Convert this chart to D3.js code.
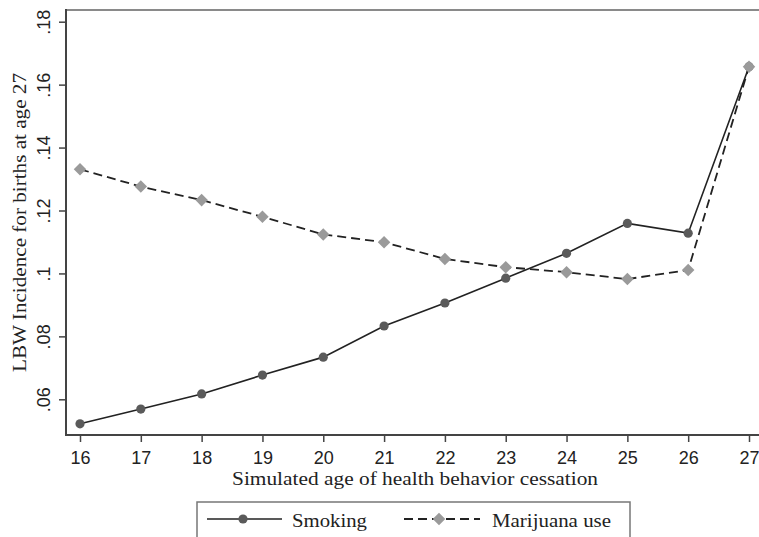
<!DOCTYPE html>
<html>
<head>
<meta charset="utf-8">
<script src="https://cdn.jsdelivr.net/npm/d3@7/dist/d3.min.js"></script>
<style>
  html, body { margin: 0; padding: 0; background: #fff; }
  svg { display: block; font-family: "Liberation Serif", "DejaVu Serif", serif; }
</style>
</head>
<body>
<svg id="chart" width="759" height="537"></svg>
<script>
const ages = [16, 17, 18, 19, 20, 21, 22, 23, 24, 25, 26, 27];
const smoking = [0.0522, 0.0569, 0.0617, 0.0677, 0.0734, 0.0833, 0.0906, 0.0985, 0.1064, 0.1159, 0.1128, 0.1657];
const marijuana = [0.1331, 0.1276, 0.1233, 0.1180, 0.1124, 0.1099, 0.1046, 0.1020, 0.1004, 0.0982, 0.1011, 0.1657];
const yTicks = [0.06, 0.08, 0.10, 0.12, 0.14, 0.16, 0.18];
const yTickLabels = [".06", ".08", ".1", ".12", ".14", ".16", ".18"];
const xTicks = ages;
const seriesNames = ["Smoking", "Marijuana use"];
const xTitle = "Simulated age of health behavior cessation";
const yTitle = "LBW Incidence for births at age 27";

const svg = d3.select("#chart");
const plot = { left: 66, top: 10, right: 759, bottom: 435 };

const x = d3.scaleLinear().domain([16, 27]).range([80, 749]);
const y = d3.scaleLinear().domain([0.06, 0.18]).range([399.3, 21.7]);

const textColor = "#222";

// top border
svg.append("line")
  .attr("x1", plot.left).attr("x2", plot.right)
  .attr("y1", plot.top).attr("y2", plot.top)
  .attr("stroke", "#8a8a8a").attr("stroke-width", 2);

// Y axis
const yAxis = d3.axisLeft(y).tickValues(yTicks)
  .tickFormat((d, i) => yTickLabels[i]).tickSize(7).tickPadding(4);
const gy = svg.append("g").attr("transform", `translate(${plot.left},0)`).call(yAxis);
gy.select(".domain").remove();
gy.selectAll(".tick line").attr("stroke", "#444").attr("stroke-width", 1.5);
gy.selectAll(".tick text")
  .attr("fill", textColor)
  .style("font-size", "18px")
  .attr("transform", "rotate(-90)")
  .attr("x", 0).attr("y", -16)
  .attr("dy", 0)
  .attr("text-anchor", "middle");

svg.append("line")
  .attr("x1", plot.left).attr("x2", plot.left)
  .attr("y1", plot.top - 1).attr("y2", plot.bottom + 1)
  .attr("stroke", "#444").attr("stroke-width", 2);

// X axis
const xAxis = d3.axisBottom(x).tickValues(xTicks).tickFormat(d3.format("d")).tickSize(7).tickPadding(3);
const gx = svg.append("g").attr("transform", `translate(0,${plot.bottom})`).call(xAxis);
gx.select(".domain").remove();
gx.selectAll(".tick line").attr("stroke", "#444").attr("stroke-width", 1.5);
gx.selectAll(".tick text").attr("fill", textColor).style("font-size", "18px")
  .attr("y", 17).attr("dy", "0.68em");

svg.append("line")
  .attr("x1", plot.left - 1).attr("x2", plot.right)
  .attr("y1", plot.bottom).attr("y2", plot.bottom)
  .attr("stroke", "#444").attr("stroke-width", 2);

// titles
svg.append("text")
  .attr("x", 415).attr("y", 485)
  .attr("text-anchor", "middle")
  .attr("fill", textColor)
  .style("font-size", "18px")
  .attr("textLength", 366).attr("lengthAdjust", "spacingAndGlyphs")
  .text(xTitle);

svg.append("text")
  .attr("transform", `translate(26,${222.5}) rotate(-90)`)
  .attr("text-anchor", "middle")
  .attr("fill", textColor)
  .style("font-size", "18px")
  .attr("textLength", 299).attr("lengthAdjust", "spacingAndGlyphs")
  .text(yTitle);

// series
const line = d3.line().x((d, i) => x(ages[i])).y(d => y(d));
const diamond = d3.symbol().type(d3.symbolDiamond2).size(100);

// Smoking
svg.append("path").datum(smoking)
  .attr("d", line).attr("fill", "none")
  .attr("stroke", "#222").attr("stroke-width", 1.6);
svg.append("g").selectAll("circle").data(smoking).join("circle")
  .attr("cx", (d, i) => x(ages[i])).attr("cy", d => y(d))
  .attr("r", 4.6).attr("fill", "#5a5a5a");

// Marijuana
svg.append("path").datum(marijuana)
  .attr("d", line).attr("fill", "none")
  .attr("stroke", "#222").attr("stroke-width", 1.8)
  .attr("stroke-dasharray", "9,5");
svg.append("g").selectAll("path").data(marijuana).join("path")
  .attr("d", diamond)
  .attr("transform", (d, i) => `translate(${x(ages[i])},${y(d)})`)
  .attr("fill", "#9a9a9a");

// legend
const lg = svg.append("g");
lg.append("rect")
  .attr("x", 197).attr("y", 502).attr("width", 433).attr("height", 60)
  .attr("fill", "#fff").attr("stroke", "#777").attr("stroke-width", 1.5);

lg.append("line").attr("x1", 207).attr("x2", 282).attr("y1", 519).attr("y2", 519)
  .attr("stroke", "#222").attr("stroke-width", 1.6);
lg.append("circle").attr("cx", 243).attr("cy", 519).attr("r", 4.6).attr("fill", "#5a5a5a");
lg.append("text").attr("x", 292).attr("y", 526.5).attr("fill", textColor)
  .style("font-size", "18px").attr("textLength", 75).attr("lengthAdjust", "spacingAndGlyphs")
  .text(seriesNames[0]);

lg.append("line").attr("x1", 404).attr("x2", 480).attr("y1", 519).attr("y2", 519)
  .attr("stroke", "#222").attr("stroke-width", 1.8).attr("stroke-dasharray", "9,5");
lg.append("path").attr("d", diamond).attr("transform", "translate(439,519)").attr("fill", "#9a9a9a");
lg.append("text").attr("x", 492).attr("y", 526.5).attr("fill", textColor)
  .style("font-size", "18px").attr("textLength", 119).attr("lengthAdjust", "spacingAndGlyphs")
  .text(seriesNames[1]);
</script>
</body>
</html>
